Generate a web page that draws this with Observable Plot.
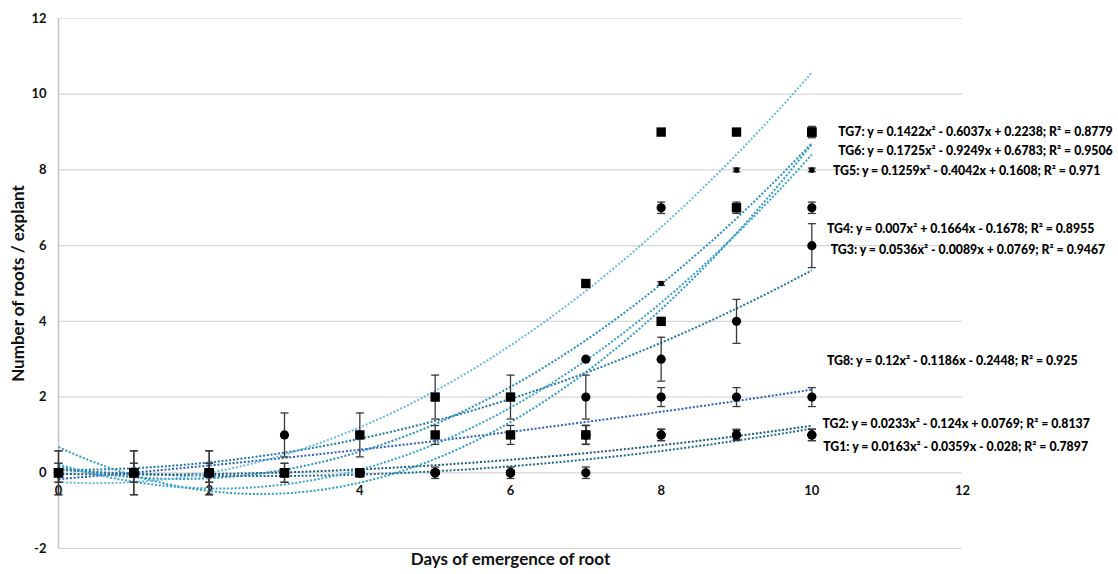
<!DOCTYPE html>
<html><head><meta charset="utf-8">
<script src="https://cdn.jsdelivr.net/npm/d3@7"></script>
<script src="https://cdn.jsdelivr.net/npm/@observablehq/plot@0.6"></script>
<style>
body{margin:0;background:#fff;}
#chart svg{display:block;}
</style>
</head><body><div id="chart"></div>
<script>
// ---- data ----
const days = [0,1,2,3,4,5,6,7,8,9,10];
const groups = ["TG1","TG2","TG3","TG4","TG5","TG6","TG7","TG8"];
const tg1 = [0,0,0,0,0,0,0,0,1,1,1];
const tg2 = [0,0,0,0,0,0,0,1,1,1,1];
const tg3 = [0,0,0,1,0,0,0,2,3,4,6];
const tg4 = [0,0,0,0,0,0,0,1,2,2,2];
const tg5 = [0,0,0,0,0,0,0,1,5,8,8];
const tg6 = [0,0,0,0,0,0,0,3,7,7,7];
const tg7 = [0,0,0,0,0,1,1,1,4,7,9];
const tg8 = [0,0,0,0,1,2,2,5,9,9,9];
const tg1Err = [0.1,0,0,0,0.1,0.15,0.15,0.15,0.15,0.12,0.15];
const tg2Err = [0.1,0,0,0.1,0,0,0,0.25,0.15,0.15,0.15];
const tg3Err = [0.58,0.58,0.58,0.58,0,0,0,0.58,0.58,0.58,0.58];
const tg4Err = [0.25,0.25,0.25,0.25,0,0,0,0.25,0.25,0.25,0.25];
const tg5Err = [0,0,0,0.1,0,0,0,0,0.05,0.05,0.05];
const tg6Err = [0,0,0,0,0,0,0,0,0.15,0,0.15];
const tg7Err = [0.25,0.25,0.25,0.25,0.1,0.25,0.25,0.25,0,0.15,0.15];
const tg8Err = [0.58,0.58,0.58,0,0.58,0.58,0.58,0,0,0,0];
const markerShape = ["circle","circle","circle","circle","circle","circle","square","square"];
const markerSize = [4.6,4.6,4.6,4.6,2.8,4.6,5.3,5.3];
const coefA = [0.0163, 0.0233, 0.0536, 0.007, 0.1259, 0.1725, 0.1422, 0.12];
const coefB = [-0.0359, -0.124, -0.0089, 0.1664, -0.4042, -0.9249, -0.6037, -0.1186];
const coefC = [-0.028, 0.0769, 0.0769, -0.1678, 0.1608, 0.6783, 0.2238, -0.2448];
const equationLabels = [
  "TG1: y = 0.0163x\u00b2 - 0.0359x - 0.028; R\u00b2 = 0.7897",
  "TG2: y = 0.0233x\u00b2 - 0.124x + 0.0769; R\u00b2 = 0.8137",
  "TG3: y = 0.0536x\u00b2 - 0.0089x + 0.0769; R\u00b2 = 0.9467",
  "TG4: y = 0.007x\u00b2 + 0.1664x - 0.1678; R\u00b2 = 0.8955",
  "TG5: y = 0.1259x\u00b2 - 0.4042x + 0.1608; R\u00b2 = 0.971",
  "TG6: y = 0.1725x\u00b2 - 0.9249x + 0.6783; R\u00b2 = 0.9506",
  "TG7: y = 0.1422x\u00b2 - 0.6037x + 0.2238; R\u00b2 = 0.8779",
  "TG8: y = 0.12x\u00b2 - 0.1186x - 0.2448; R\u00b2 = 0.925"
];
const labelX = [10.15, 10.14, 10.25, 10.2, 10.28, 10.35, 10.35, 10.2];
const labelY = [0.69, 1.29, 5.89, 6.44, 7.98, 8.5, 9.0, 2.96];
const trendColors = ["#1b5b79","#1f6c8e","#1f79a6","#2f5fc0","#2a8fbd","#2f9bc6","#3aa3cf","#6bbbe0"];
const xTicks = [0,2,4,6,8,10,12];
const yTicks = [-2,0,2,4,6,8,10,12];
const xTitle = "Days of emergence of root";
const yTitle = "Number of roots / explant";

// ---- build tables ----
const seriesVals = [tg1,tg2,tg3,tg4,tg5,tg6,tg7,tg8];
const seriesErr = [tg1Err,tg2Err,tg3Err,tg4Err,tg5Err,tg6Err,tg7Err,tg8Err];
const points = [];
groups.forEach((g,i) => days.forEach((d,j) => points.push({
  group: g, day: d, value: seriesVals[i][j], err: seriesErr[i][j],
  shape: markerShape[i], r: markerSize[i]
})));
const errPts = points.filter(p => p.err > 0);
const caps = errPts.flatMap(p => [{day:p.day, y:p.value - p.err},{day:p.day, y:p.value + p.err}]);
const trendX = d3.range(0, 10.0001, 0.1);
const trends = groups.flatMap((g,i) => trendX.map(x => ({
  group: g, x, y: coefA[i]*x*x + coefB[i]*x + coefC[i]
})));
const labels = groups.map((g,i) => ({text: equationLabels[i], x: labelX[i], y: labelY[i]}));
const capSymbol = {draw(ctx){ ctx.moveTo(-4,0); ctx.lineTo(4,0); }};
const yMid = (yTicks[0] + yTicks[yTicks.length - 1]) / 2;

const font = "Lato, 'Open Sans', sans-serif";
const chart = Plot.plot({
  width: 1118, height: 574,
  marginLeft: 58, marginRight: 156, marginTop: 18, marginBottom: 26,
  style: {fontFamily: font, background: "#fff"},
  x: {domain: [0,12]},
  y: {domain: [-2,12]},
  r: {type: "identity"},
  color: {domain: groups, range: trendColors},
  marks: [
    Plot.ruleY(yTicks, {stroke: d => d === 12 ? "#e4e4e4" : "#d6d6d6", strokeWidth: 1.2}),
    Plot.ruleX([0], {stroke: "#c4c4c4", strokeWidth: 1.5}),
    Plot.axisY({ticks: yTicks, tickSize: 0, tickPadding: 12, tickFormat: d => String(d), fontSize: 13, fontWeight: "bold", fill: "#111", label: null}),
    Plot.axisX({ticks: [], label: null}),
    Plot.text(xTicks, {x: d => d, y: 0, dy: 18, text: d => String(d), fontSize: 13, fontWeight: "bold", fill: "#111"}),
    Plot.text([xTitle], {frameAnchor: "bottom", dy: 16, fontSize: 17, fontWeight: "bold", fill: "#111"}),
    Plot.text([yTitle], {x: 0, y: yMid, dx: -40, rotate: -90, fontSize: 17, fontWeight: "bold", fill: "#111"}),
    Plot.line(trends, {x: "x", y: "y", z: "group", stroke: "group", strokeWidth: 2, strokeDasharray: "2,1.8", strokeLinecap: "butt"}),
    Plot.ruleX(errPts, {x: "day", y1: d => d.value - d.err, y2: d => d.value + d.err, stroke: "#3a3a3a", strokeWidth: 1.3}),
    Plot.dot(caps, {x: "day", y: "y", symbol: capSymbol, stroke: "#3a3a3a", strokeWidth: 1.3, fill: "none", r: 4}),
    Plot.dot(points, {x: "day", y: "value", symbol: "shape", r: "r", fill: "#000", stroke: "none"}),
    Plot.text(labels, {x: "x", y: "y", text: "text", textAnchor: "start", fontSize: 12.3, fontWeight: "900", fill: "#000"})
  ]
});
document.getElementById("chart").appendChild(chart);
</script>
</body></html>
